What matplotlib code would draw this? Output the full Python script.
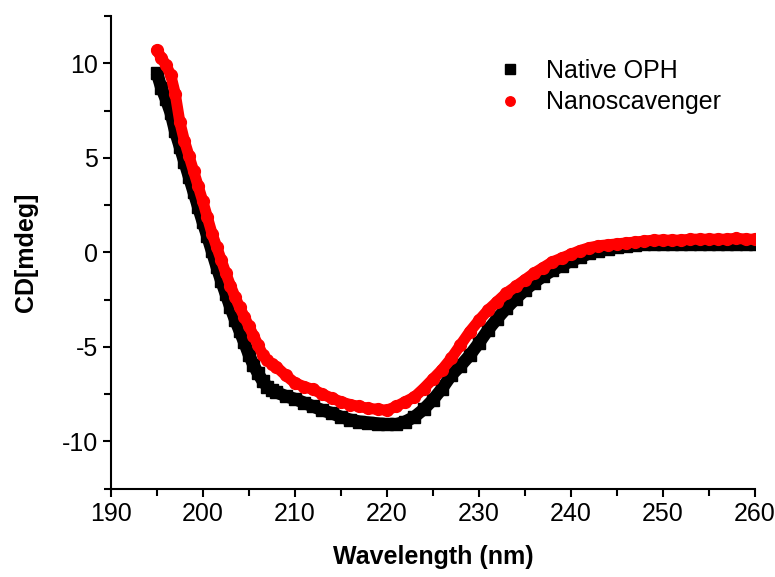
import matplotlib
matplotlib.use("Agg")
import matplotlib.pyplot as plt
from matplotlib.ticker import MultipleLocator

plt.rcParams['font.family'] = ['Liberation Sans', 'DejaVu Sans']
plt.rcParams['axes.unicode_minus'] = False

# wavelength grid: 0.5 nm steps on the steep part, 1 nm afterwards
wl = [195.0, 195.5, 196.0, 196.5, 197.0, 197.5, 198.0, 198.5, 199.0, 199.5,
      200.0, 200.5, 201.0, 201.5, 202.0, 202.5, 203.0, 203.5, 204.0, 204.5,
      205.0, 205.5, 206.0, 206.5, 207.0, 207.5, 208.0,
      209, 210, 211, 212, 213, 214, 215, 216, 217, 218, 219, 220,
      221, 222, 223, 224, 225, 226, 227, 228, 229, 230,
      231, 232, 233, 234, 235, 236, 237, 238, 239, 240,
      241, 242, 243, 244, 245, 246, 247, 248, 249, 250,
      251, 252, 253, 254, 255, 256, 257, 258, 259, 260]

native_oph = [9.5, 8.7, 8.1, 7.4, 6.4, 5.6, 4.8, 4.0, 3.2, 2.4,
              1.6, 0.85, 0.05, -0.75, -1.5, -2.2, -2.9, -3.55, -4.15, -4.75,
              -5.4, -5.95, -6.4, -6.8, -7.1, -7.3, -7.4,
              -7.6, -7.75, -7.95, -8.15, -8.35, -8.5, -8.7, -8.85, -8.95, -9.0, -9.05, -9.1,
              -9.1, -8.95, -8.7, -8.3, -7.8, -7.2, -6.5, -6.0, -5.45, -4.8,
              -4.1, -3.5, -2.95, -2.45, -2.0, -1.6, -1.25, -0.95, -0.7, -0.45,
              -0.25, -0.05, 0.1, 0.2, 0.3, 0.35, 0.4, 0.42, 0.45, 0.45,
              0.45, 0.45, 0.45, 0.45, 0.45, 0.45, 0.45, 0.45, 0.45, 0.45]

nanoscavenger = [10.7, 10.3, 9.9, 9.4, 8.4, 6.9, 5.9, 5.1, 4.3, 3.5,
                 2.7, 1.85, 1.0, 0.3, -0.4, -1.1, -1.75, -2.35, -2.9, -3.4,
                 -3.9, -4.4, -4.9, -5.4, -5.7, -5.9, -6.05,
                 -6.5, -6.9, -7.1, -7.25, -7.5, -7.7, -7.9, -8.05, -8.15, -8.25, -8.3, -8.35,
                 -8.15, -7.9, -7.65, -7.2, -6.7, -6.2, -5.6, -4.9, -4.2, -3.6,
                 -3.05, -2.6, -2.15, -1.8, -1.45, -1.1, -0.8, -0.5, -0.3, -0.1,
                 0.1, 0.25, 0.35, 0.4, 0.45, 0.5, 0.55, 0.6, 0.65, 0.65,
                 0.65, 0.65, 0.7, 0.7, 0.7, 0.7, 0.7, 0.75, 0.7, 0.7]


fig = plt.figure(figsize=(7.75, 5.77), dpi=100)
ax = fig.add_axes([0.143, 0.153, 0.831, 0.819])

# thick line underneath so the marker band looks continuous
ax.plot(wl, native_oph, color='black', lw=9, solid_capstyle='butt', zorder=2)
ax.plot(wl, native_oph, 's', color='black', ms=9, label='Native OPH', zorder=3)
ax.plot(wl, nanoscavenger, color='red', lw=8, solid_capstyle='round', zorder=4)
ax.plot(wl, nanoscavenger, 'o', color='red', ms=8.5, mec='red', label='Nanoscavenger', zorder=5)

ax.set_xlim(190, 260)
ax.set_ylim(-12.5, 12.5)

ax.xaxis.set_major_locator(MultipleLocator(10))
ax.xaxis.set_minor_locator(MultipleLocator(5))
ax.yaxis.set_major_locator(MultipleLocator(5))
ax.yaxis.set_minor_locator(MultipleLocator(2.5))

ax.spines['top'].set_visible(False)
ax.spines['right'].set_visible(False)
ax.spines['left'].set_linewidth(1.5)
ax.spines['bottom'].set_linewidth(1.5)

ax.tick_params(which='both', direction='out', width=1.5, labelsize=18)
ax.tick_params(which='major', length=6)
ax.tick_params(which='minor', length=5)

ax.set_xlabel("Wavelength (nm)", fontsize=18, fontweight='bold', labelpad=14)
ax.set_ylabel("CD[mdeg]", fontsize=18, fontweight='bold', labelpad=17)

handles, labels = ax.get_legend_handles_labels()
leg = ax.legend(handles, labels, loc='upper right', bbox_to_anchor=(0.983, 0.957),
                frameon=False, fontsize=18, handlelength=1.5, handletextpad=0.7,
                labelspacing=0.3, markerscale=0.8)

fig.savefig("out.png", dpi=100)
